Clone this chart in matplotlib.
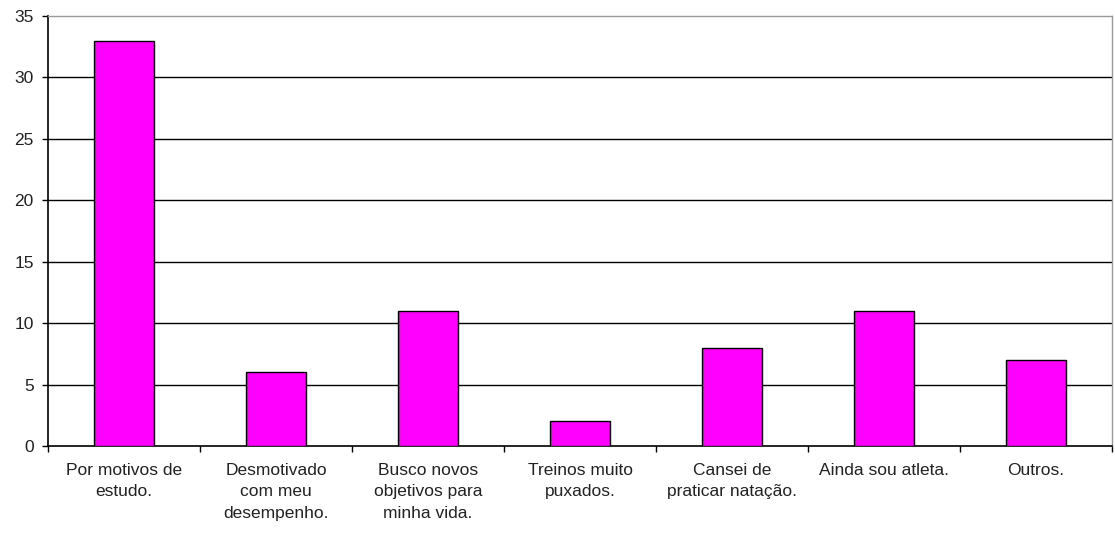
import matplotlib
matplotlib.use("Agg")
import matplotlib.pyplot as plt
import numpy as np

categories = [
    "Por motivos de\nestudo.",
    "Desmotivado\ncom meu\ndesempenho.",
    "Busco novos\nobjetivos para\nminha vida.",
    "Treinos muito\npuxados.",
    "Cansei de\npraticar natação.",
    "Ainda sou atleta.",
    "Outros.",
]
values = [33, 6, 11, 2, 8, 11, 7]
y_ticks = [0, 5, 10, 15, 20, 25, 30, 35]

plt.rcParams["font.family"] = ["Liberation Sans", "DejaVu Sans"]

fig = plt.figure(figsize=(11.15, 5.33), dpi=100)
ax = fig.add_axes([48 / 1115, 87 / 533, (1112 - 48) / 1115, (446 - 16) / 533])

x = np.arange(len(categories))
ax.bar(x, values, width=0.4, color="#FF00FF", edgecolor="black", linewidth=1.0, zorder=3)

ax.set_xlim(-0.5, len(categories) - 0.5)
ax.set_ylim(0, 35)
ax.set_yticks(y_ticks)
ax.set_yticklabels([str(t) for t in y_ticks], fontsize=12.5, color="#222222")

# horizontal gridlines (the top one is the plot border)
for t in y_ticks[1:-1]:
    ax.axhline(t, color="black", linewidth=1.0, zorder=1)

ax.set_xticks(x)
ax.set_xticklabels(categories, fontsize=12.5, color="#222222", linespacing=1.55)
ax.tick_params(axis="x", which="major", length=0, pad=12)
ax.set_xticks(np.arange(len(categories) + 1) - 0.5, minor=True)
ax.tick_params(axis="x", which="minor", length=4.3, width=1, color="black", direction="out")
ax.tick_params(axis="y", length=4.3, width=1, color="black", direction="out", pad=6)

for side in ["top", "right"]:
    ax.spines[side].set_color("#999999")
    ax.spines[side].set_linewidth(1.0)
for side in ["left", "bottom"]:
    ax.spines[side].set_color("black")
    ax.spines[side].set_linewidth(1.2)

fig.savefig("out.png", dpi=100, facecolor="white")
